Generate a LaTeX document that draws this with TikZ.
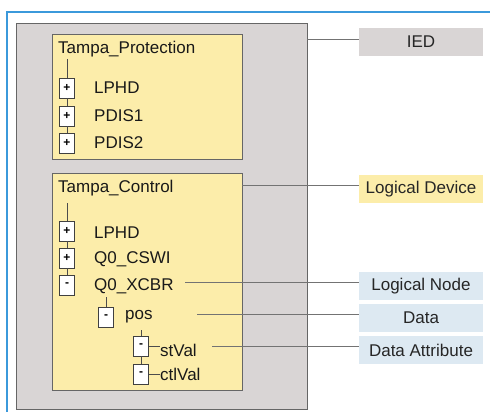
\documentclass[tikz,border=0pt]{standalone}
\usepackage{fontspec}
\setmainfont{Liberation Sans}
\begin{document}
\begin{tikzpicture}[x=1pt,y=-1pt,
  frameline/.style={draw=cyan!70!blue!80, line width=1.2pt},
  iedbox/.style={draw=gray!80!black, fill=iedgray, line width=0.8pt},
  ldbox/.style={draw=gray!80!black, fill=ldyellow, line width=0.8pt},
  txt/.style={font=\fontsize{17}{19}\selectfont, text=black!90, inner sep=0pt, anchor=west},
  tog/.style={draw=black!75, fill=white, line width=0.7pt, minimum width=15pt, minimum height=20pt, inner sep=0pt, font=\fontsize{12}{13}\selectfont\bfseries},
  tree/.style={draw=black!70, line width=0.7pt},
  lead/.style={draw=black!55, line width=0.9pt},
  tag/.style={minimum width=124pt, minimum height=28pt, inner sep=0pt, font=\fontsize{17}{19}\selectfont, text=black!85}]
\definecolor{iedgray}{HTML}{D9D5D5}
\definecolor{ldyellow}{HTML}{FCEDAA}
\definecolor{lnblue}{HTML}{DDE9F2}
\useasboundingbox (0,0) rectangle (490,412);
\fill[white] (0,0) rectangle (490,412);
% outer frame
\draw[frameline] (7,412) -- (7,12) -- (490,12);
% IED container and logical device containers
\draw[iedbox] (16,23) rectangle (307,409);
\draw[ldbox] (52,34) rectangle (242,159);
\draw[ldbox] (52,173) rectangle (242,390);
\coordinate (iedR) at (307,39);
\coordinate (ld2R) at (242,185);

% Logical device: Tampa_Protection
\node[txt] (ldp) at (58,49) {Tampa\_Protection};
\node[tog] (p1) at (67,88) {+};
\node[tog] (p2) at (67,116) {+};
\node[tog] (p3) at (67,143) {+};
\node[txt] at (94,88) {LPHD};
\node[txt] at (94,116) {PDIS1};
\node[txt] at (94,143) {PDIS2};
\draw[tree] (67,59) -- (p1.north);
\draw[tree] (p1.south) -- (p2.north);
\draw[tree] (p2.south) -- (p3.north);

% Logical device: Tampa_Control
\node[txt] (ldc) at (58,188) {Tampa\_Control};
\node[tog] (c1) at (67,231) {+};
\node[tog] (c2) at (67,258) {+};
\node[tog] (c3) at (67,285) {-};
\node[txt] (lphd) at (94,233) {LPHD};
\node[txt] (cswi) at (94,259) {Q0\_CSWI};
\node[txt] (xcbr) at (94,286) {Q0\_XCBR};
\draw[tree] (67,203) -- (c1.north);
\draw[tree] (c1.south) -- (c2.north);
\draw[tree] (c2.south) -- (c3.north);

\node[tog] (d1) at (106,317) {-};
\node[txt] (pos) at (125,317) {pos};
\draw[tree] (106,297) -- (d1.north);

\node[tog] (a1) at (141,346) {-};
\node[tog] (a2) at (141,374) {-};
\node[txt] (stval) at (160,350) {stVal};
\node[txt] (ctlval) at (160,374) {ctlVal};
\draw[tree] (141,330) -- (a1.north);
\draw[tree] (a1.south) -- (a2.north);
\draw[tree] (a1.east) -- (stval.west |- a1.east);
\draw[tree] (a2.east) -- (ctlval.west |- a2.east);

% legend tags
\node[tag, fill=iedgray] (tied) at (421,42) {IED};
\node[tag, fill=ldyellow] (tld) at (421,189) {Logical Device};
\node[tag, fill=lnblue] (tln) at (421,286) {Logical Node};
\node[tag, fill=lnblue] (tda) at (421,318) {Data};
\node[tag, fill=lnblue] (tatt) at (421,350) {Data Attribute};

\draw[lead] (iedR) -- (tied.west |- iedR);
\draw[lead] (ld2R) -- (tld.west |- ld2R);
\draw[lead] (185,282) -- (tln.west |- 0,282);
\draw[lead] (197,314) -- (tda.west |- 0,314);
\draw[lead] (212,346) -- (tatt.west |- 0,346);
\end{tikzpicture}
\end{document}
